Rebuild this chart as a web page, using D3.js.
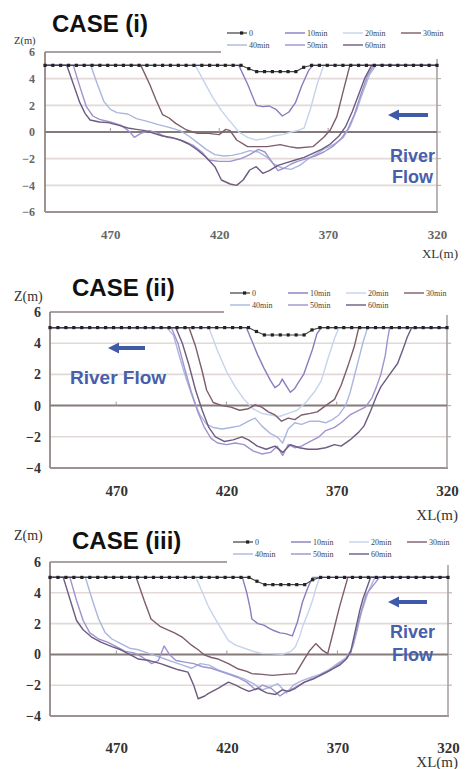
<!DOCTYPE html>
<html>
<head>
<meta charset="utf-8">
<script src="https://cdn.jsdelivr.net/npm/d3@7"></script>
<style>
  html, body { margin: 0; padding: 0; background: #fff; }
  svg { display: block; }
</style>
</head>
<body>
<script>
// ---- Data ---------------------------------------------------------------
const seriesNames = ["0", "10min", "20min", "30min", "40min", "50min", "60min"];
const xTicks = [470, 420, 370, 320];
const zTicksWide = [-6, -4, -2, 0, 2, 4, 6];
const zTicksNarrow = [-4, -2, 0, 2, 4, 6];

// survey stations (XL, m) and initial bed level Z (m)
const surveyXL = [500, 496.4, 492.8, 489.2, 485.6, 482, 478.4, 474.8, 471.2, 467.6,
  464, 460.4, 456.8, 453.2, 449.6, 446, 442.4, 438.8, 435.2, 431.6,
  428, 424.4, 420.8, 417.2, 413.6, 410, 406.4, 402.8, 399.2, 395.6,
  392, 388.4, 384.8, 381.2, 377.6, 374, 370.4, 366.8, 363.2, 359.6,
  356, 352.4, 348.8, 345.2, 341.6, 338, 334.4, 330.8, 327.2, 323.6, 320];
const initialBed = [5, 5, 5, 5, 5, 5, 5, 5, 5, 5,
  5, 5, 5, 5, 5, 5, 5, 5, 5, 5,
  5, 5, 5, 5, 5, 5, 4.75, 4.53, 4.53, 4.53,
  4.53, 4.53, 4.53, 4.85, 5, 5, 5, 5, 5, 5,
  5, 5, 5, 5, 5, 5, 5, 5, 5, 5, 5];

// CASE (i) bed profiles [XL, Z]
const c1_10 = [[500,5],[411,5],[407,3.6],[403,2.0],[400,1.9],[397,1.95],[394,1.7],[391,1.2],[388,1.5],[385,2.2],[382,3.5],[379,4.6],[377,5],[320,5]];
const c1_20 = [[500,5],[431,5],[427,3.8],[423,2.6],[419,1.6],[415,0.8],[411,0.0],[407,-0.4],[403,-0.6],[399,-0.5],[395,-0.3],[391,-0.2],[387,0.0],[384,0.1],[381,0.3],[378,1.8],[375,3.6],[372,5],[320,5]];
const c1_30 = [[500,5],[456,5],[452,3.6],[449,2.4],[446,1.3],[443,1.05],[440,0.65],[435,0.15],[430,-0.1],[425,-0.1],[420,-0.2],[417,0.2],[415,0.1],[412,-0.6],[407,-1.1],[402,-1.1],[398,-1.1],[392,-0.95],[388,-1.1],[384,-1.2],[377,-1.1],[372,-0.4],[369,0.15],[366,1.15],[363,3.1],[360,5],[320,5]];
const c1_40 = [[500,5],[479,5],[476,3.6],[473,2.3],[470,1.7],[467,1.45],[462,1.35],[458,1.0],[453,0.8],[448,0.55],[443,0.35],[438,0.1],[434,-0.3],[430,-0.8],[426,-1.3],[422,-1.7],[418,-1.8],[414,-1.75],[410,-1.6],[406,-1.4],[402,-1.5],[398,-1.9],[395,-2.4],[391,-2.7],[387,-2.8],[383,-2.5],[379,-2.0],[375,-1.6],[371,-1.2],[367,-0.9],[363,-0.4],[360,0.4],[357,1.6],[354,3.0],[351,4.3],[348,5],[320,5]];
const c1_50 = [[500,5],[487,5],[484,3.4],[481,1.9],[478,1.2],[475,0.95],[470,0.75],[465,0.5],[461,0.0],[459,-0.4],[456,-0.1],[452,0.1],[448,-0.1],[444,-0.4],[440,-0.5],[436,-0.7],[432,-1.0],[428,-1.5],[425,-2.1],[420,-2.2],[415,-2.2],[410,-2.0],[406,-1.7],[402,-1.3],[399,-1.5],[396,-2.2],[393,-2.9],[390,-2.7],[387,-2.4],[384,-2.2],[380,-2.0],[376,-1.8],[372,-1.5],[368,-1.1],[364,-0.5],[361,0.2],[358,1.3],[355,2.8],[352,4.2],[349,5],[320,5]];
const c1_60 = [[500,5],[490,5],[487,3.6],[484,2.2],[481.6,1.4],[479.3,0.9],[475,0.75],[471,0.7],[466,0.5],[462,0.3],[458,0.2],[454,0.1],[450,-0.1],[446,-0.3],[442,-0.4],[438,-0.6],[434,-0.9],[430,-1.35],[426,-1.9],[422,-2.6],[419,-3.6],[415,-3.9],[412,-4.0],[409,-3.6],[406,-2.85],[403,-2.6],[400,-3.1],[397,-2.9],[393,-2.5],[389,-2.3],[385,-2.1],[381,-1.9],[377,-1.6],[373,-1.3],[369,-0.9],[365,-0.3],[362,0.4],[359,1.5],[356,2.8],[353,4.1],[350,5],[320,5]];

// CASE (ii) bed profiles [XL, Z]
const c2_10 = [[500,5],[411,5],[408,4.0],[406,3.3],[403,2.4],[400,1.6],[398,1.15],[396,1.35],[394.7,1.7],[393,1.3],[391,0.85],[389,1.1],[387.5,1.45],[385,2.0],[383,2.8],[381,3.6],[379,4.6],[377,5],[320,5]];
const c2_20 = [[500,5],[428,5],[424,3.5],[420,2.2],[416,1.2],[412,0.4],[408,-0.2],[404,-0.5],[400,-0.6],[396,-0.7],[392,-0.5],[388,-0.3],[384,0.2],[380,0.9],[377,1.6],[374,3.0],[371,4.3],[369,5],[320,5]];
const c2_30 = [[500,5],[437,5],[434,3.8],[431,2.2],[429,1.0],[426,0.2],[422,0.0],[418,-0.1],[414,-0.3],[410,-0.2],[407,0.05],[404,-0.1],[401,-0.4],[398,-0.6],[395,-1.0],[392,-0.8],[389,-0.9],[386,-0.6],[382,-0.5],[378.8,-0.4],[375,0.0],[371,0.4],[368,1.3],[365,2.5],[362,3.8],[360,5],[320,5]];
const c2_40 = [[500,5],[447,5],[444,4.5],[441,3.0],[438,1.6],[435,0.4],[432,-0.6],[429,-1.2],[426,-1.4],[422,-1.5],[418,-1.4],[414,-1.3],[410,-1.0],[407,-0.8],[404,-1.3],[400,-1.8],[397,-2.0],[394.5,-2.4],[392,-1.5],[389,-1.1],[386,-1.2],[382,-1.0],[378,-1.0],[375,-1.1],[372,-0.9],[369,-0.6],[366,0.0],[364,0.8],[362,1.9],[360,3.0],[358,4.1],[356,5],[320,5]];
const c2_50 = [[500,5],[445,5],[442,4.0],[439,2.4],[436,0.9],[433,-0.4],[430,-1.4],[427,-2.1],[424,-2.4],[420,-2.5],[416,-2.4],[412,-2.5],[408,-2.9],[404,-3.1],[400,-3.0],[397,-2.6],[394.5,-3.2],[392,-2.5],[389,-2.7],[386,-2.6],[382,-2.3],[378,-2.0],[375,-1.6],[371,-1.4],[368,-1.1],[364,-0.6],[360,-0.3],[357,-0.1],[354,0.5],[352,1.2],[350,2.0],[348,3.2],[347,4.2],[346,5],[320,5]];
const c2_60 = [[500,5],[443,5],[440,4.0],[437,2.6],[434,1.0],[431,-0.3],[428,-1.4],[425,-2.0],[421,-2.3],[417,-2.2],[413,-2.0],[410,-2.2],[406,-2.6],[402,-2.8],[398,-2.6],[394.5,-3.0],[391,-2.5],[387,-2.7],[383,-2.8],[379,-2.8],[375,-2.7],[371,-2.5],[368,-2.6],[364,-2.2],[360,-1.7],[357.6,-1.3],[354.5,-0.3],[352,0.6],[350,1.2],[346,2.0],[342.4,2.7],[340,3.6],[338,4.4],[336,5],[320,5]];

// CASE (iii) bed profiles [XL, Z]
const c3_10 = [[500,5],[413,5],[411,4.0],[409.5,3.0],[408.7,2.3],[406,2.0],[403.3,1.9],[401,1.7],[398.8,1.55],[396,1.4],[393.5,1.35],[390.4,1.2],[388.1,2.1],[385.8,3.4],[383.5,4.3],[381.3,5],[320,5]];
const c3_20 = [[500,5],[434,5],[431,4.0],[428,3.0],[424,2.0],[419.3,0.9],[416,0.6],[413,0.45],[408,0.2],[404,0.05],[400,0.05],[395,0.0],[391,0.2],[389,0.5],[387,1.2],[385.8,1.8],[383,2.8],[381.3,3.5],[379.5,4.4],[378,5],[320,5]];
const c3_30 = [[500,5],[461,5],[457.4,3.5],[454.3,2.3],[450,1.8],[446,1.55],[443.7,1.4],[440,1.1],[436,0.6],[433,0.3],[430,-0.05],[427,-0.2],[423.9,-0.3],[419.3,-0.6],[414.8,-0.95],[411,-1.1],[408.7,-1.25],[404,-1.3],[399.5,-1.36],[394,-1.3],[388.9,-1.25],[385.8,-0.5],[382.8,0.2],[379.8,0.7],[376.7,0.26],[374.4,0.05],[372.1,1.34],[369.1,3.07],[365.3,5],[320,5]];
const c3_40 = [[500,5],[484,5],[481,3.6],[478,2.3],[475,1.4],[472,1.0],[468,0.7],[464,0.4],[460,0.3],[456,0.1],[452,-0.1],[448,-0.3],[444,-0.5],[440,-0.7],[436,-0.9],[432,-0.6],[428,-0.7],[424,-1.0],[420,-1.2],[416,-1.4],[412,-1.6],[408,-1.9],[404,-2.3],[400,-2.1],[397,-1.9],[393,-2.5],[390,-2.0],[386,-1.7],[382,-1.5],[378,-1.3],[374,-1.0],[370,-0.6],[366,-0.2],[363,0.5],[361,1.6],[359,2.8],[356,4.1],[353,5],[320,5]];
const c3_50 = [[500,5],[491,5],[488,3.5],[485,2.2],[482,1.4],[478,1.0],[474,0.8],[470,0.5],[466,0.2],[462,0.1],[458,-0.2],[454,-0.6],[451,-0.4],[448.4,0.55],[446,0.0],[443,-0.4],[439,-0.5],[435,-0.6],[431,-0.8],[427,-0.9],[423,-1.1],[419,-1.3],[415,-1.5],[411,-1.8],[407,-2.3],[404,-2.0],[400,-2.2],[396,-2.7],[393,-2.4],[390,-2.2],[386,-1.9],[382,-1.6],[378,-1.4],[374,-1.1],[370,-0.7],[366,-0.3],[364,0.1],[362,1.2],[360,2.4],[357,3.9],[351,5],[320,5]];
const c3_60 = [[500,5],[494,5],[491,3.6],[488,2.2],[485,1.6],[481,1.1],[477,0.8],[472,0.5],[468,0.3],[464,0.0],[460,-0.3],[455,-0.4],[450,-0.6],[446,-0.8],[442,-1.0],[437.6,-1.15],[435,-2.0],[433,-2.88],[430,-2.7],[428.5,-2.55],[424,-2.2],[419.3,-1.8],[416,-2.0],[413.2,-2.2],[410,-2.4],[406,-2.2],[402,-2.5],[398,-2.6],[395,-2.3],[392,-2.4],[389,-2.2],[385,-1.8],[381,-1.6],[377,-1.3],[373,-1.0],[369,-0.7],[366,-0.3],[364,0.2],[362,1.5],[360,2.8],[358.5,3.6],[355,5],[320,5]];

// ---- Styling -------------------------------------------------------------
const seriesColors = ["#2b2b2b", "#8a7cbc", "#c6d3ee", "#7d5c6c", "#aab6de", "#9d93cf", "#6e5b80"];
const serif = "'Liberation Serif','Times New Roman',serif";
const sans = "'Liberation Sans',Arial,sans-serif";
const flowBlue = "#3f5aa8";

const panels = [
  { profiles: [c1_10, c1_20, c1_30, c1_40, c1_50, c1_60], zTicks: zTicksWide,
    left: 45, right: 437, top: 52, bottom: 212,
    title: "CASE (i)", titleX: 52, titleY: 32,
    zLab: { x: 14, y: 44, size: 10.5 }, tickFont: 12, tickColor: "#666", yPad: 10,
    xLabTop: 230, xlY: 258, legendX: 227, legendY: 33,
    legendBox: [221, 24, 240, 35],
    arrow: { head: 388, tail: 428, y: 115 },
    flow: [{ t: "River", x: 390, y: 162, s: 18 }, { t: "Flow", x: 392, y: 183, s: 18 }] },
  { profiles: [c2_10, c2_20, c2_30, c2_40, c2_50, c2_60], zTicks: zTicksNarrow,
    left: 50, right: 447, top: 312, bottom: 468,
    title: "CASE (ii)", titleX: 72, titleY: 296,
    zLab: { x: 14, y: 301, size: 14 }, tickFont: 14, tickColor: "#333", yPad: 9,
    xLabTop: 485, xlY: 520, legendX: 230, legendY: 293,
    legendBox: [224, 284, 240, 31],
    arrow: { head: 108, tail: 145, y: 348 },
    flow: [{ t: "River Flow", x: 70, y: 384, s: 19 }] },
  { profiles: [c3_10, c3_20, c3_30, c3_40, c3_50, c3_60], zTicks: zTicksNarrow,
    left: 50, right: 448, top: 562, bottom: 716,
    title: "CASE (iii)", titleX: 72, titleY: 549,
    zLab: { x: 14, y: 540, size: 14 }, tickFont: 14, tickColor: "#333", yPad: 9,
    xLabTop: 742, xlY: 767, legendX: 233, legendY: 542,
    legendBox: [227, 533, 240, 32],
    arrow: { head: 388, tail: 427, y: 602 },
    flow: [{ t: "River", x: 390, y: 638, s: 18 }, { t: "Flow", x: 392, y: 661, s: 18 }] }
];

// ---- Drawing -------------------------------------------------------------
const svg = d3.select("body").append("svg").attr("width", 465).attr("height", 769);
svg.append("rect").attr("width", 465).attr("height", 769).attr("fill", "#fff");

function drawPanel(cfg) {
  const x = d3.scaleLinear().domain([500, 320]).range([cfg.left, cfg.right]);
  const z = d3.scaleLinear().domain([cfg.zTicks[0], 6]).range([cfg.bottom, cfg.top]);
  const g = svg.append("g");

  // horizontal gridlines
  g.selectAll("line.grid")
    .data(cfg.zTicks.filter(v => v !== 0 && v !== cfg.zTicks[0] && v !== 6))
    .join("line")
    .attr("x1", cfg.left).attr("x2", cfg.right)
    .attr("y1", d => z(d)).attr("y2", d => z(d))
    .attr("stroke", "#e2d9d6").attr("stroke-width", 1.6);

  // small outward ticks on the right frame
  g.selectAll("line.rtick")
    .data(cfg.zTicks.filter(v => v !== cfg.zTicks[0] && v !== 6))
    .join("line")
    .attr("x1", cfg.right).attr("x2", cfg.right + 4)
    .attr("y1", d => z(d)).attr("y2", d => z(d))
    .attr("stroke", "#aaa").attr("stroke-width", 1);

  // frame
  g.append("line").attr("x1", cfg.left).attr("x2", cfg.left)
    .attr("y1", cfg.top).attr("y2", cfg.bottom)
    .attr("stroke", "#9c9292").attr("stroke-width", 2);
  g.append("line").attr("x1", cfg.left).attr("x2", cfg.right + 1)
    .attr("y1", cfg.bottom).attr("y2", cfg.bottom)
    .attr("stroke", "#9c9292").attr("stroke-width", 2);
  g.append("line").attr("x1", cfg.right).attr("x2", cfg.right)
    .attr("y1", cfg.top).attr("y2", cfg.bottom)
    .attr("stroke", "#aaa2a2").attr("stroke-width", 1.6);
  g.append("line").attr("x1", cfg.left).attr("x2", cfg.right)
    .attr("y1", cfg.top).attr("y2", cfg.top)
    .attr("stroke", "#8f8585").attr("stroke-width", 1.6);

  // zero line with category ticks
  g.append("line").attr("x1", cfg.left).attr("x2", cfg.right)
    .attr("y1", z(0)).attr("y2", z(0))
    .attr("stroke", "#857a7a").attr("stroke-width", 2);
  g.selectAll("line.xtick").data(xTicks.slice(0, 3)).join("line")
    .attr("x1", d => x(d)).attr("x2", d => x(d))
    .attr("y1", z(0) - 4).attr("y2", z(0))
    .attr("stroke", "#999").attr("stroke-width", 1);

  // bed profiles
  const line = d3.line().x(d => x(d[0])).y(d => z(d[1]));
  cfg.profiles.forEach((p, i) => {
    g.append("path").datum(p).attr("d", line)
      .attr("fill", "none").attr("stroke", seriesColors[i + 1])
      .attr("stroke-width", 1.4).attr("stroke-linejoin", "round");
  });

  // initial bed with markers
  const bed = surveyXL.map((xl, i) => [xl, initialBed[i]]);
  g.append("path").datum(bed).attr("d", line)
    .attr("fill", "none").attr("stroke", "#444").attr("stroke-width", 1.1);
  g.selectAll("rect.mk").data(bed).join("rect")
    .attr("x", d => x(d[0]) - 1.6).attr("y", d => z(d[1]) - 1.6)
    .attr("width", 3.2).attr("height", 3.2).attr("fill", "#222");

  // Z axis labels
  const yAxis = d3.axisLeft(z).tickValues(cfg.zTicks).tickSize(0).tickPadding(cfg.yPad)
    .tickFormat(d3.format("d"));
  g.append("g").attr("transform", `translate(${cfg.left},0)`).call(yAxis)
    .call(a => a.select(".domain").remove())
    .selectAll("text")
    .attr("font-family", serif).attr("font-weight", "bold")
    .attr("font-size", cfg.tickFont).attr("fill", cfg.tickColor);

  // XL axis labels
  const xAxis = d3.axisBottom(x).tickValues(xTicks).tickSize(0).tickPadding(0);
  g.append("g").attr("transform", `translate(0,${cfg.xLabTop})`).call(xAxis)
    .call(a => a.select(".domain").remove())
    .selectAll("text")
    .attr("font-family", serif).attr("font-weight", "bold")
    .attr("font-size", cfg.tickFont + 1).attr("fill", cfg.tickColor);

  g.append("text").attr("x", 458).attr("y", cfg.xlY).attr("text-anchor", "end")
    .attr("font-family", serif).attr("font-size", cfg.tickFont + 1)
    .attr("fill", "#333").text("XL(m)");

  g.append("text").attr("x", cfg.zLab.x).attr("y", cfg.zLab.y)
    .attr("font-family", serif).attr("font-size", cfg.zLab.size)
    .attr("fill", "#333").text("Z(m)");

  // title
  g.append("text").attr("x", cfg.titleX).attr("y", cfg.titleY)
    .attr("font-family", sans).attr("font-weight", "bold")
    .attr("font-size", 24).attr("fill", "#111").text(cfg.title);

  // legend
  const [bx, by, bw, bh] = cfg.legendBox;
  g.append("rect").attr("x", bx).attr("y", by).attr("width", bw).attr("height", bh).attr("fill", "#fff");
  const colX = [0, 58, 116, 174];
  seriesNames.forEach((name, i) => {
    const row = i < 4 ? 0 : 1;
    const col = i < 4 ? i : i - 4;
    const lx = cfg.legendX + colX[col];
    const ly = cfg.legendY + row * 12;
    g.append("line").attr("x1", lx).attr("x2", lx + 20).attr("y1", ly).attr("y2", ly)
      .attr("stroke", seriesColors[i]).attr("stroke-width", i === 0 ? 1.1 : 1.4);
    if (i === 0) {
      g.append("rect").attr("x", lx + 13).attr("y", ly - 1.6)
        .attr("width", 3.2).attr("height", 3.2).attr("fill", "#222");
    }
    g.append("text").attr("x", lx + 22).attr("y", ly + 3)
      .attr("font-family", serif).attr("font-size", 8).attr("fill", "#444").text(name);
  });

  // river flow arrow and caption
  const a = cfg.arrow;
  g.append("line").attr("x1", a.tail).attr("x2", a.head + 8).attr("y1", a.y).attr("y2", a.y)
    .attr("stroke", flowBlue).attr("stroke-width", 4);
  g.append("path")
    .attr("d", `M${a.head},${a.y} L${a.head + 11},${a.y - 5.5} L${a.head + 11},${a.y + 5.5} Z`)
    .attr("fill", flowBlue);
  cfg.flow.forEach(f => {
    g.append("text").attr("x", f.x).attr("y", f.y)
      .attr("font-family", sans).attr("font-weight", "bold").attr("font-size", f.s)
      .attr("fill", "#4760ab").text(f.t);
  });
}

panels.forEach(drawPanel);
</script>
</body>
</html>
